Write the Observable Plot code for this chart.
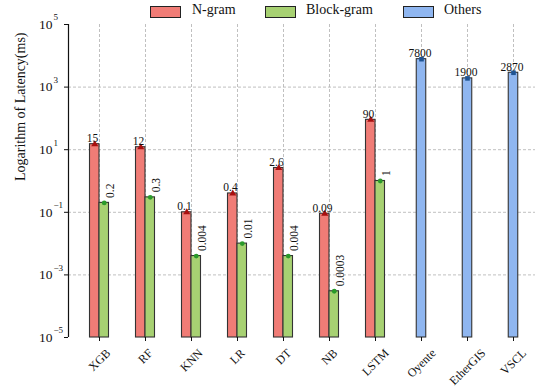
<!DOCTYPE html>
<html>
<head>
<meta charset="utf-8">
<script src="https://cdn.jsdelivr.net/npm/d3@7"></script>
<script src="https://cdn.jsdelivr.net/npm/@observablehq/plot@0.6"></script>
<style>
  html, body { margin: 0; padding: 0; background: white; overflow: hidden; }
  #wrap { position: relative; width: 535px; height: 387px; font-family: "Liberation Serif", "Times New Roman", serif; }
  .lg-patch { position: absolute; top: 6px; width: 29px; height: 10px; border: 1px solid #222; }
  .lg-text { position: absolute; top: 2px; font-size: 14px; color: #111; font-family: "Liberation Serif", serif; }
</style>
</head>
<body>
<div id="wrap">
  <div id="chart"></div>
</div>
<script>
const categories = ["XGB", "RF", "KNN", "LR", "DT", "NB", "LSTM", "Oyente", "EtherGIS", "VSCL"];
const ngramModels = ["XGB", "RF", "KNN", "LR", "DT", "NB", "LSTM"];
const ngramValues = [15, 12, 0.1, 0.4, 2.6, 0.09, 90];
const ngramLabels = ["15", "12", "0.1", "0.4", "2.6", "0.09", "90"];
const blockgramValues = [0.2, 0.3, 0.004, 0.01, 0.004, 0.0003, 1];
const blockgramLabels = ["0.2", "0.3", "0.004", "0.01", "0.004", "0.0003", "1"];
const othersModels = ["Oyente", "EtherGIS", "VSCL"];
const othersValues = [7800, 1900, 2870];
const othersLabels = ["7800", "1900", "2870"];
const yTicks = [1e-5, 1e-3, 1e-1, 1e1, 1e3, 1e5];
const yTickExponents = ["\u22125", "\u22123", "\u22121", "1", "3", "5"];
const seriesNames = ["N-gram", "Block-gram", "Others"];
const seriesColors = ["#f07c76", "#a7d172", "#8fb6f0"];
const markerColors = ["#a80f0f", "#2a9a2a", "#1f5494"];

const base = 1e-5;
const ngram = ngramModels.map((m, i) => ({model: m, value: ngramValues[i], label: ngramLabels[i]}));
const block = ngramModels.map((m, i) => ({model: m, value: blockgramValues[i], label: blockgramLabels[i]}));
const others = othersModels.map((m, i) => ({model: m, value: othersValues[i], label: othersLabels[i]}));
const ticks = yTicks.map((t, i) => ({t, e: yTickExponents[i]}));

const font = "'Liberation Serif', 'Times New Roman', serif";
const half = 4.75;
const inset = (46 - 2 * half) / 2;

// measure tick label lengths so the rotated label's bounding box is centred under its tick
const xFont = 12;
const ctx = document.createElement("canvas").getContext("2d");
ctx.font = `${xFont}px 'Liberation Serif'`;
const xLabelMarks = categories.map(c => {
  const L = ctx.measureText(c).width;
  const h = xFont * 0.85;
  const off = 10 + (L + h) * Math.SQRT1_2 / 2;
  return Plot.text([c], {x: () => c, frameAnchor: "bottom", rotate: -45, textAnchor: "middle", lineAnchor: "middle", dy: off, fontSize: xFont, fill: "#111"});
});

const chart = Plot.plot({
  width: 535,
  height: 387,
  marginLeft: 68,
  marginRight: 0,
  marginTop: 24,
  marginBottom: 50,
  style: {fontFamily: font, background: "white", overflow: "visible"},
  x: {type: "band", domain: categories, range: [76, 536], padding: 0},
  y: {type: "log", domain: [1e-5, 1e5]},
  marks: [
    // grid
    Plot.ruleY(yTicks.slice(1, -1), {stroke: "#b0b0b0", strokeDasharray: "3,2", strokeWidth: 0.8}),
    Plot.ruleX(categories, {x: d => d, stroke: "#b0b0b0", strokeDasharray: "3,2", strokeWidth: 0.8}),
    // bars
    Plot.barY(ngram, {x: "model", y1: () => base, y2: "value", dx: -half, insetLeft: inset, insetRight: inset, fill: seriesColors[0], stroke: "#333", strokeWidth: 1.1}),
    Plot.barY(block, {x: "model", y1: () => base, y2: "value", dx: half, insetLeft: inset, insetRight: inset, fill: seriesColors[1], stroke: "#333", strokeWidth: 1.1}),
    Plot.barY(others, {x: "model", y1: () => base, y2: "value", insetLeft: inset, insetRight: inset, fill: seriesColors[2], stroke: "#333", strokeWidth: 1.1}),
    // markers
    Plot.dot(ngram, {x: "model", y: "value", dx: -half, symbol: "triangle", r: 2.6, fill: markerColors[0], stroke: "none"}),
    Plot.dot(block, {x: "model", y: "value", dx: half, symbol: "circle", r: 2.4, fill: markerColors[1], stroke: "none"}),
    Plot.dot(others, {x: "model", y: "value", symbol: "square", r: 2.6, fill: markerColors[2], stroke: "none"}),
    // value labels
    Plot.text(ngram, {x: "model", y: "value", text: "label", dx: -7, dy: -2, lineAnchor: "bottom", fontSize: 11.5, fill: "#111"}),
    Plot.text(block, {x: "model", y: "value", text: "label", dx: half + 6, dy: -5, rotate: -90, textAnchor: "start", lineAnchor: "middle", fontSize: 11.5, fill: "#111"}),
    Plot.text(others, {x: "model", y: "value", text: "label", dx: -1.5, dy: -2, lineAnchor: "bottom", fontSize: 11.5, fill: "#111"}),
    // spines
    Plot.ruleY([1e-5, 1e5], {x1: 68, x2: 535, stroke: "#111", strokeWidth: 1.2}),
    Plot.ruleX([0], {x: () => categories[0], dx: -31, y1: 1e-5, y2: 1e5, stroke: "#111", strokeWidth: 1.2}),
    // y axis ticks
    Plot.axisY({ticks: yTicks, tickSize: 4, tickFormat: () => "", stroke: "#111"}),
    Plot.text(ticks, {y: "t", text: () => "10", frameAnchor: "left", dx: -16, textAnchor: "end", fontSize: 13.5, fill: "#111"}),
    Plot.text(ticks, {y: "t", text: "e", frameAnchor: "left", dx: -15, dy: -7, textAnchor: "start", fontSize: 9, fill: "#111"}),
    // x axis ticks and rotated labels
    Plot.axisX({tickSize: 4, tickFormat: () => "", stroke: "#111", label: null}),
    ...xLabelMarks,
    // y label
    Plot.text(["Logarithm of Latency(ms)"], {frameAnchor: "left", dx: -48, rotate: -90, fontSize: 14, fill: "#111"})
  ]
});
document.getElementById("chart").appendChild(chart);

// legend
const wrap = document.getElementById("wrap");
const lgPatch = [150, 265, 403];
const lgText = [192, 306, 444];
seriesNames.forEach((name, i) => {
  const p = document.createElement("div");
  p.className = "lg-patch";
  p.style.left = lgPatch[i] + "px";
  p.style.background = seriesColors[i];
  wrap.appendChild(p);
  const t = document.createElement("div");
  t.className = "lg-text";
  t.style.left = lgText[i] + "px";
  t.textContent = name;
  wrap.appendChild(t);
});
</script>
</body>
</html>
